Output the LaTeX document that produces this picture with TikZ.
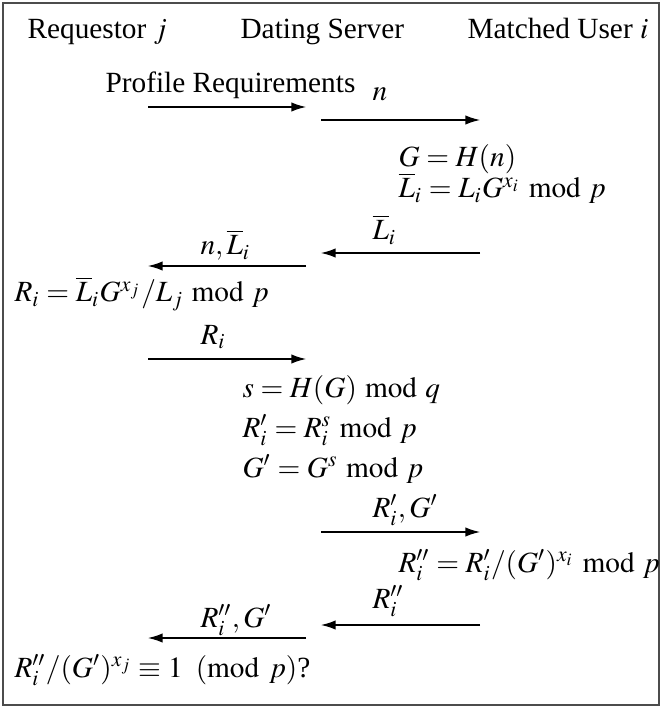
\documentclass[tikz,border=0pt]{standalone}
\usepackage{amsmath}
\usepackage{mathptmx}
\usepackage{fontspec}
\setmainfont{Liberation Serif}
\usetikzlibrary{arrows.meta}
\tikzset{
    txt/.style = {anchor=base west, inner sep=0pt},
    arrow/.style = {-{Latex[length=5pt, width=3.2pt]}, line width=0.45pt},
    frame/.style = {draw=black!70, line width=0.6pt}
}

\begin{document}
\begin{tikzpicture}[x=0.3413pt, y=-0.3413pt]
    \useasboundingbox (0,0) rectangle (662,709);
    \draw[frame] (3,3) rectangle (659,705);

    % parties
    \node[txt] (req) at (27,39) {Requestor $j$};
    \node[txt] (srv) at (240,39) {Dating Server};
    \node[txt] (usr) at (467,39) {Matched User $i$};

    % step 1: request
    \node[txt] (m1lbl) at (105,93) {Profile Requirements};
    \coordinate (m1a) at (148,107);
    \coordinate (m1b) at (306,107);
    \draw[arrow] (m1a) -- (m1b);
    \node[txt] (m2lbl) at (372,101) {$n$};
    \coordinate (m2a) at (321,120);
    \coordinate (m2b) at (480,120);
    \draw[arrow] (m2a) -- (m2b);
    \node[txt] (c1) at (398,167) {$G = H(n)$};
    \node[txt] (c2) at (398,198) {$\overline{L}_i = L_i G^{x_i} \bmod p$};

    % step 2: reply
    \node[txt] (m3lbl) at (372,240) {$\overline{L}_i$};
    \coordinate (m3a) at (480,253);
    \coordinate (m3b) at (321,253);
    \draw[arrow] (m3a) -- (m3b);
    \node[txt] (m4lbl) at (200,255) {$n, \overline{L}_i$};
    \coordinate (m4a) at (306,266);
    \coordinate (m4b) at (148,266);
    \draw[arrow] (m4a) -- (m4b);
    \node[txt] (c3) at (14,302) {$R_i = \overline{L}_i G^{x_j} / L_j \bmod p$};

    % step 3: blinding
    \node[txt] (m5lbl) at (200,344) {$R_i$};
    \coordinate (m5a) at (148,359);
    \coordinate (m5b) at (306,359);
    \draw[arrow] (m5a) -- (m5b);
    \node[txt] (c4) at (242,397) {$s = H(G) \bmod q$};
    \node[txt] (c5) at (242,437) {$R_i' = R_i^s \bmod p$};
    \node[txt] (c6) at (242,477) {$G' = G^s \bmod p$};
    \node[txt] (m6lbl) at (372,517) {$R_i', G'$};
    \coordinate (m6a) at (321,532);
    \coordinate (m6b) at (480,532);
    \draw[arrow] (m6a) -- (m6b);
    \node[txt] (c7) at (398,572) {$R_i'' = R_i' / (G')^{x_i} \bmod p$};

    % step 4: check
    \node[txt] (m7lbl) at (372,608) {$R_i''$};
    \coordinate (m7a) at (480,625);
    \coordinate (m7b) at (321,625);
    \draw[arrow] (m7a) -- (m7b);
    \node[txt] (m8lbl) at (200,627) {$R_i'', G'$};
    \coordinate (m8a) at (306,638);
    \coordinate (m8b) at (148,638);
    \draw[arrow] (m8a) -- (m8b);
    \node[txt] (c8) at (14,677) {$R_i'' / (G')^{x_j} \equiv 1 \pmod{p}$?};
\end{tikzpicture}
\end{document}
